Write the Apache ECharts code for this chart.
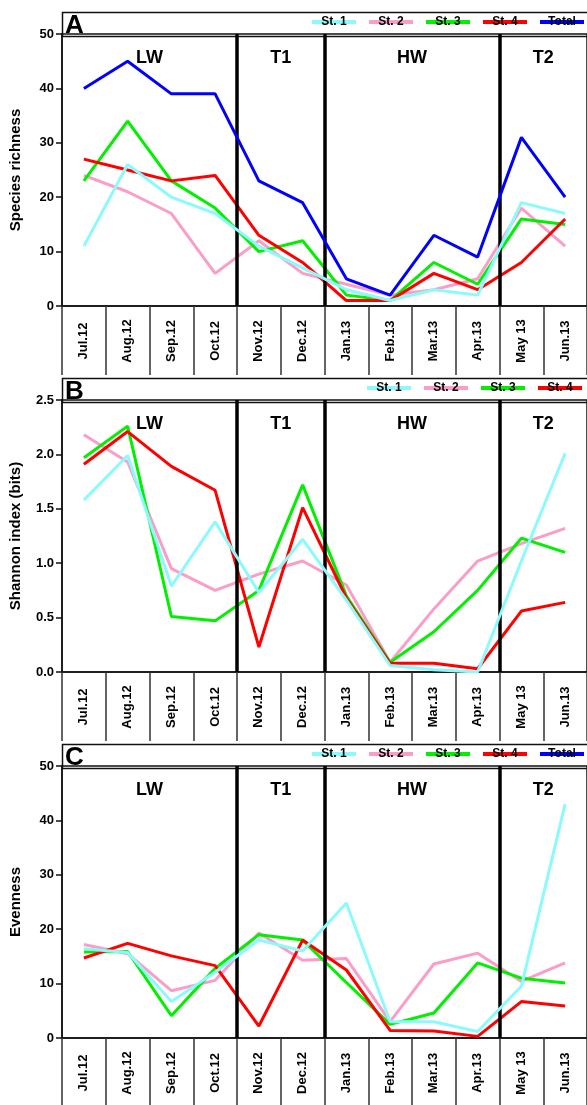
<!DOCTYPE html>
<html>
<head>
<meta charset="utf-8">
<script src="https://cdn.jsdelivr.net/npm/echarts@6/dist/echarts.min.js"></script>
<style>
  html, body { margin: 0; padding: 0; background: #fff; }
  #chart { width: 587px; height: 1105px; }
</style>
</head>
<body>
<div id="chart"></div>
<script>
// Sampling months
const months = ['Jul.12', 'Aug.12', 'Sep.12', 'Oct.12', 'Nov.12', 'Dec.12',
                'Jan.13', 'Feb.13', 'Mar.13', 'Apr.13', 'May 13', 'Jun.13'];

// Hydrological periods and their boundaries (in month-index units)
const periods = ['LW', 'T1', 'HW', 'T2'];
const periodBounds = [-0.5, 3.5, 5.5, 9.5, 11.5];

// A: species richness
const richSt1   = [11, 26, 20, 17, 11, 7, 3, 1, 3, 2, 19, 17];
const richSt2   = [24, 21, 17, 6, 12, 6, 4, 2, 3, 5, 18, 11];
const richSt3   = [23, 34, 23, 18, 10, 12, 2, 1, 8, 4, 16, 15];
const richSt4   = [27, 25, 23, 24, 13, 8, 1, 1, 6, 3, 8, 16];
const richTotal = [40, 45, 39, 39, 23, 19, 5, 2, 13, 9, 31, 20];

// B: Shannon index (bits)
const shanSt1 = [1.58, 1.99, 0.79, 1.38, 0.73, 1.22, 0.66, 0.06, 0.02, 0.00, 1.02, 2.01];
const shanSt2 = [2.18, 1.93, 0.95, 0.75, 0.90, 1.02, 0.80, 0.09, 0.58, 1.02, 1.18, 1.32];
const shanSt3 = [1.97, 2.26, 0.51, 0.47, 0.75, 1.72, 0.70, 0.09, 0.37, 0.75, 1.23, 1.10];
const shanSt4 = [1.91, 2.21, 1.89, 1.67, 0.23, 1.51, 0.68, 0.08, 0.08, 0.03, 0.56, 0.64];

// C: evenness
const evenSt1 = [16.4, 15.7, 6.7, 12.1, 18.0, 16.0, 24.8, 3.0, 3.0, 1.2, 9.5, 43.0];
const evenSt2 = [17.2, 15.5, 8.7, 10.6, 19.3, 14.3, 14.6, 3.0, 13.6, 15.6, 10.4, 13.8];
const evenSt3 = [15.8, 15.9, 4.1, 12.8, 19.0, 18.0, 10.2, 2.5, 4.6, 13.8, 11.0, 10.1];
const evenSt4 = [14.7, 17.4, 15.1, 13.3, 2.2, 18.0, 12.5, 1.4, 1.3, 0.3, 6.7, 5.9];

// Styling
const FONT = '"Liberation Sans", Arial, Helvetica, sans-serif';
const colorMap = {
  'St. 1': '#8cfafc',
  'St. 2': '#fa9ec8',
  'St. 3': '#00f000',
  'St. 4': '#ff0000',
  'Total': '#0000ff'
};
const zMap = { 'St. 2': 2, 'St. 3': 3, 'St. 4': 4, 'St. 1': 5, 'Total': 6 };

// Layout of the three stacked panels
const LEFT = 60, RIGHT = -5;
const PLOT_H = 272, HEAD_H = 24, LABEL_H = 69;
const panelTops = [34, 400, 766];
const LEG_W = 44, LEG_GAP = 13;

const panels = [
  { letter: 'A', yName: 'Species richness', max: 50, interval: 10, decimals: 0,
    series: { 'St. 1': richSt1, 'St. 2': richSt2, 'St. 3': richSt3, 'St. 4': richSt4, 'Total': richTotal },
    legend: ['St. 1', 'St. 2', 'St. 3', 'St. 4', 'Total'], legendLeft: 312 },
  { letter: 'B', yName: 'Shannon index (bits)', max: 2.5, interval: 0.5, decimals: 1,
    series: { 'St. 1': shanSt1, 'St. 2': shanSt2, 'St. 3': shanSt3, 'St. 4': shanSt4 },
    legend: ['St. 1', 'St. 2', 'St. 3', 'St. 4'], legendLeft: 367 },
  { letter: 'C', yName: 'Evenness', max: 50, interval: 10, decimals: 0,
    series: { 'St. 1': evenSt1, 'St. 2': evenSt2, 'St. 3': evenSt3, 'St. 4': evenSt4 },
    legend: ['St. 1', 'St. 2', 'St. 3', 'St. 4', 'Total'], legendLeft: 312 }
];

const grid = [], xAxis = [], yAxis = [], series = [], legend = [], graphic = [];

panels.forEach((p, i) => {
  const top = panelTops[i];

  grid.push({
    left: LEFT, right: RIGHT, top: top, height: PLOT_H,
    show: true, borderColor: '#111', borderWidth: 1.5, containLabel: false
  });

  // Month columns under each panel
  xAxis.push({
    type: 'category', gridIndex: i, data: months, boundaryGap: true,
    axisLine: { onZero: false, lineStyle: { color: '#111', width: 1.5 } },
    axisTick: { show: true, interval: 0, length: LABEL_H, lineStyle: { color: '#333', width: 1.5 } },
    axisLabel: {
      interval: 0, rotate: 90, margin: 35, align: 'center', verticalAlign: 'middle',
      color: '#000', fontFamily: FONT, fontWeight: 'bold', fontSize: 13
    },
    splitLine: { show: false }
  });
  // Hidden continuous axis used for period dividers
  xAxis.push({ type: 'value', gridIndex: i, min: -0.5, max: 11.5, show: false });

  yAxis.push({
    type: 'value', gridIndex: i, min: 0, max: p.max, interval: p.interval,
    name: p.yName, nameLocation: 'middle', nameGap: 39, nameRotate: 90,
    nameTextStyle: { color: '#000', fontFamily: FONT, fontWeight: 'bold', fontSize: 15 },
    axisLine: { show: true, onZero: false, lineStyle: { color: '#111', width: 1.5 } },
    axisTick: { show: true, length: 6, lineStyle: { color: '#111', width: 1.5 } },
    axisLabel: {
      margin: 8, color: '#000', fontFamily: FONT, fontWeight: 'bold', fontSize: 13,
      formatter: v => v.toFixed(p.decimals)
    },
    splitLine: { show: false }
  });

  Object.keys(p.series).forEach(name => {
    series.push({
      type: 'line', name: name, xAxisIndex: 2 * i, yAxisIndex: i,
      data: p.series[name], symbol: 'none', z: zMap[name],
      color: colorMap[name],
      lineStyle: { width: 3, color: colorMap[name] },
      animation: false
    });
  });

  // Period dividers and period names
  const areas = periods.map((name, k) => [
    { xAxis: periodBounds[k], name: name },
    { xAxis: periodBounds[k + 1] }
  ]);
  series.push({
    type: 'line', xAxisIndex: 2 * i + 1, yAxisIndex: i, data: [], z: 10, silent: true,
    markLine: {
      silent: true, symbol: 'none', animation: false,
      label: { show: false },
      lineStyle: { color: '#000', width: 3.5, type: 'solid' },
      data: periodBounds.slice(1, -1).map(b => ({ xAxis: b }))
    },
    markArea: {
      silent: true, animation: false,
      itemStyle: { color: 'rgba(0,0,0,0)' },
      label: {
        show: true, position: 'insideTop', distance: 15,
        color: '#000', fontFamily: FONT, fontWeight: 'bold', fontSize: 18
      },
      data: areas
    }
  });

  // Legend: coloured bars; the station names are laid over their centres
  legend.push({
    data: p.legend, left: p.legendLeft, top: top - 14, orient: 'horizontal',
    padding: 0, itemGap: LEG_GAP, itemWidth: LEG_W, itemHeight: 4, icon: 'rect',
    selectedMode: false, formatter: () => ''
  });
  p.legend.forEach((name, k) => {
    graphic.push({
      type: 'text', silent: true, z: 100,
      x: p.legendLeft + LEG_W / 2 + k * (LEG_W + LEG_GAP), y: top - 12,
      style: {
        text: name, fill: '#000', font: 'bold 12px ' + FONT,
        textAlign: 'center', textVerticalAlign: 'middle', align: 'center', verticalAlign: 'middle'
      }
    });
  });

  // Header strip holding the panel letter and the legend
  graphic.push({
    type: 'rect', left: LEFT, top: top - HEAD_H, silent: true, z: 0,
    shape: { width: 540, height: HEAD_H },
    style: { fill: 'none', stroke: '#111', lineWidth: 1.5 }
  });
  graphic.push({
    type: 'text', left: LEFT + 5, top: top - HEAD_H + 3, silent: true,
    style: { text: p.letter, fill: '#000', font: 'bold 26px ' + FONT }
  });
});

const chart = echarts.init(document.getElementById('chart'), null, { renderer: 'canvas' });
chart.setOption({
  animation: false,
  backgroundColor: '#fff',
  grid, xAxis, yAxis, series, legend, graphic
});
</script>
</body>
</html>
